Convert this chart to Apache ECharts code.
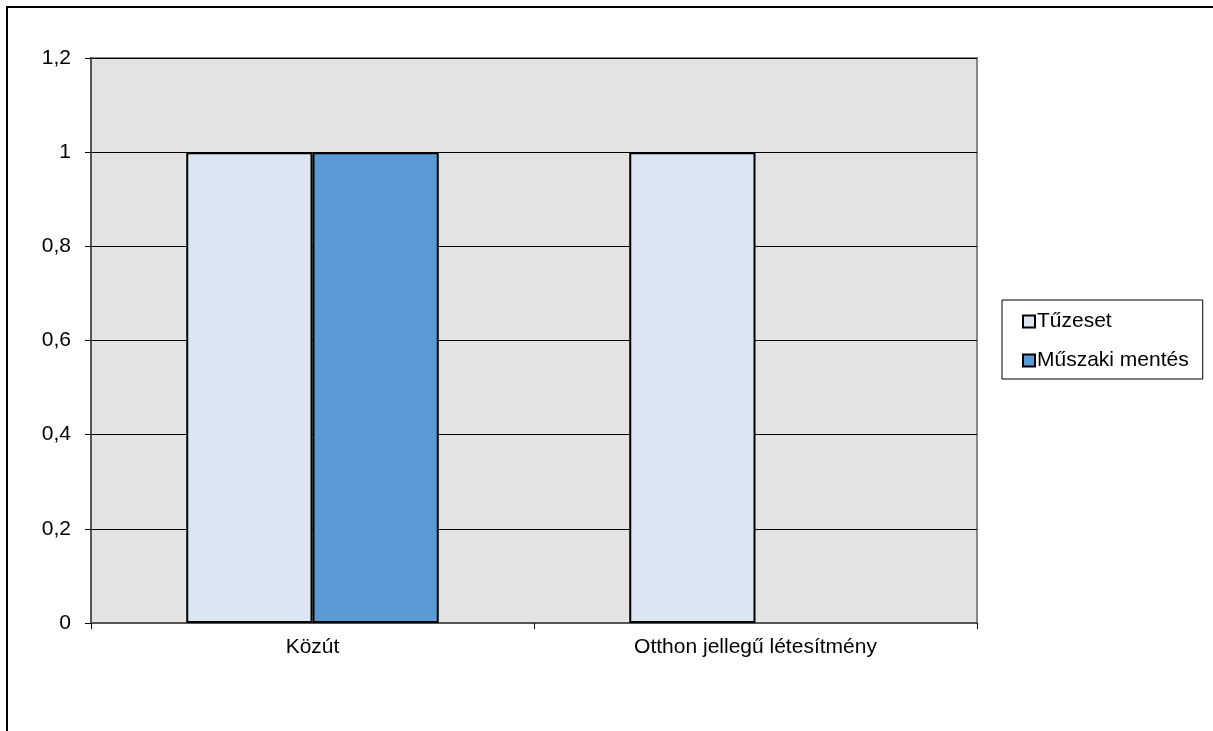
<!DOCTYPE html>
<html>
<head>
<meta charset="utf-8">
<script src="https://cdn.jsdelivr.net/npm/echarts@6/dist/echarts.min.js"></script>
<style>
  html, body { margin: 0; padding: 0; background: #fff; }
  #chart { width: 1213px; height: 731px; }
</style>
</head>
<body>
<div id="chart"></div>
<script>
const categories = ['Közút', 'Otthon jellegű létesítmény'];
const seriesNames = ['Tűzeset', 'Műszaki mentés'];
const tuzeset = [1, 1];
const muszaki = [1, null];

const myChart = echarts.init(document.getElementById('chart'));
const font = 'Liberation Sans, Arial, sans-serif';

const option = {
  animation: false,
  textStyle: { fontFamily: font },
  graphic: [
    {
      type: 'polyline',
      shape: { points: [[7, 731], [7, 7], [1213, 7]] },
      style: { stroke: '#000', lineWidth: 2, fill: null }
    }
  ],
  legend: {
    data: seriesNames,
    orient: 'vertical',
    left: 1002,
    top: 300,
    padding: [11, 14, 8, 20],
    itemGap: 18,
    itemWidth: 12,
    itemHeight: 12,
    icon: 'rect',
    borderColor: '#000',
    borderWidth: 1,
    textStyle: { fontSize: 21, color: '#000', fontFamily: font, padding: [0, 0, 0, -3] }
  },
  grid: {
    left: 91,
    right: 236,
    top: 58,
    bottom: 108,
    show: true,
    backgroundColor: '#e3e3e3',
    borderColor: '#888',
    borderWidth: 2
  },
  xAxis: {
    type: 'category',
    data: categories,
    axisLine: { lineStyle: { color: '#555', width: 2 } },
    axisTick: { show: true, length: 6, lineStyle: { color: '#000' } },
    axisLabel: { fontSize: 21, color: '#000', margin: 14, fontFamily: font }
  },
  yAxis: {
    type: 'value',
    min: 0,
    max: 1.2,
    interval: 0.2,
    axisLine: { show: true, lineStyle: { color: '#555', width: 2 } },
    axisTick: { show: true, length: 6, lineStyle: { color: '#000' } },
    axisLabel: {
      fontSize: 21,
      color: '#000',
      margin: 20,
      fontFamily: font,
      formatter: v => String(Math.round(v * 10) / 10).replace('.', ',')
    },
    splitLine: { lineStyle: { color: '#000', width: 1 } }
  },
  series: [
    {
      name: seriesNames[0],
      type: 'bar',
      data: tuzeset,
      barGap: '0%',
      barCategoryGap: '43%',
      itemStyle: { color: '#dce6f2', borderColor: '#000', borderWidth: 2 }
    },
    {
      name: seriesNames[1],
      type: 'bar',
      data: muszaki,
      itemStyle: { color: '#5b9bd5', borderColor: '#000', borderWidth: 2 }
    }
  ]
};

myChart.setOption(option);
</script>
</body>
</html>
